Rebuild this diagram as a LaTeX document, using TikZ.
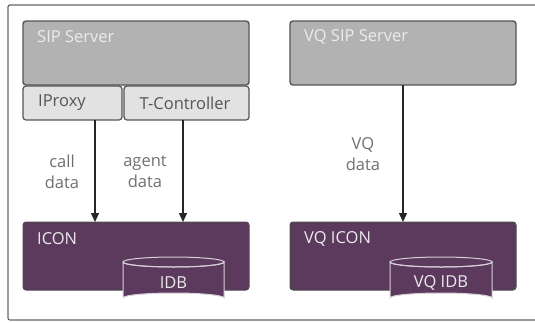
\documentclass[tikz,border=0pt]{standalone}
\usepackage{fontspec}
\setmainfont{Open Sans}
\usetikzlibrary{arrows.meta}
\definecolor{srvgray}{HTML}{B2B2B2}
\definecolor{subgray}{HTML}{E2E2E2}
\definecolor{edgegray}{HTML}{555555}
\definecolor{icon}{HTML}{5B3A5E}
\definecolor{lbl}{HTML}{707070}
\definecolor{cylline}{HTML}{D8D0D8}
\tikzset{
  server/.style={draw=edgegray, line width=1.4pt, fill=srvgray, rounded corners=3pt},
  sub/.style={draw=edgegray, line width=1.2pt, fill=subgray, rounded corners=3pt},
  iconbox/.style={draw=black!70, line width=1pt, fill=icon, rounded corners=3pt},
  wtext/.style={text=white!92!black, font=\fontsize{16.5}{21}\selectfont, anchor=west, inner sep=0pt},
  dtext/.style={text=edgegray, font=\fontsize{16.5}{21}\selectfont, inner sep=0pt},
  ltext/.style={text=lbl, font=\fontsize{16.5}{21}\selectfont, align=center, inner sep=0pt},
  flow/.style={draw=black!85, line width=1.4pt, -{Triangle[length=9pt,width=8pt]}},
  cyl/.style={draw=cylline, line width=1pt, fill=icon}
}
\begin{document}
\begin{tikzpicture}[x=1pt,y=-1pt]
\useasboundingbox (0,0) rectangle (535,322);
\draw[draw=black!60, line width=1.2pt, rounded corners=2pt] (545,5) -- (8,5) -- (8,320) -- (545,320);
% left group
\path[server] (23,21) rectangle (249,85);
\node[wtext] (sip) at (37,37) {SIP Server};
\path[sub] (23,86) rectangle (122,120);
\path[sub] (124,86) rectangle (249,120);
\node[dtext, anchor=west] (iproxy) at (38,103) {IProxy};
\node[dtext] (tctl) at (185,103) {T-Controller};
\coordinate (ip) at (95,120);
\coordinate (tc) at (183,120);
\path[iconbox] (23,222) rectangle (249,290);
\node[wtext] (icon) at (37,239) {ICON};
\coordinate (ipe) at (95,222);
\coordinate (tce) at (183,222);
\draw[flow] (ip) -- (ipe);
\draw[flow] (tc) -- (tce);
\node[ltext] (calld) at (62,172) {call\\data};
\node[ltext] (agentd) at (145,172) {agent\\data};
% IDB cylinder
\path[cyl] (123,262) -- (123,298) arc[start angle=180,end angle=360,x radius=50.5,y radius=5] -- (224,262) arc[start angle=0,end angle=180,x radius=50.5,y radius=5] -- cycle;
\draw[cylline, line width=1pt] (173.5,262) ellipse[x radius=50.5,y radius=5];
\node[wtext, anchor=center] (idb) at (173.5,283) {IDB};
% right group
\path[server] (290,21) rectangle (516,85);
\node[wtext] (vqsip) at (304,37) {VQ SIP Server};
\coordinate (vq) at (403,85);
\path[iconbox] (290,222) rectangle (516,290);
\node[wtext] (vqicon) at (304,239) {VQ ICON};
\coordinate (vqe) at (403,222);
\draw[flow] (vq) -- (vqe);
\node[ltext] (vqd) at (363,154) {VQ\\data};
\path[cyl] (390,262) -- (390,298) arc[start angle=180,end angle=360,x radius=51,y radius=5] -- (492,262) arc[start angle=0,end angle=180,x radius=51,y radius=5] -- cycle;
\draw[cylline, line width=1pt] (441,262) ellipse[x radius=51,y radius=5];
\node[wtext, anchor=center] (vqidb) at (441,283) {VQ IDB};
\end{tikzpicture}
\end{document}
